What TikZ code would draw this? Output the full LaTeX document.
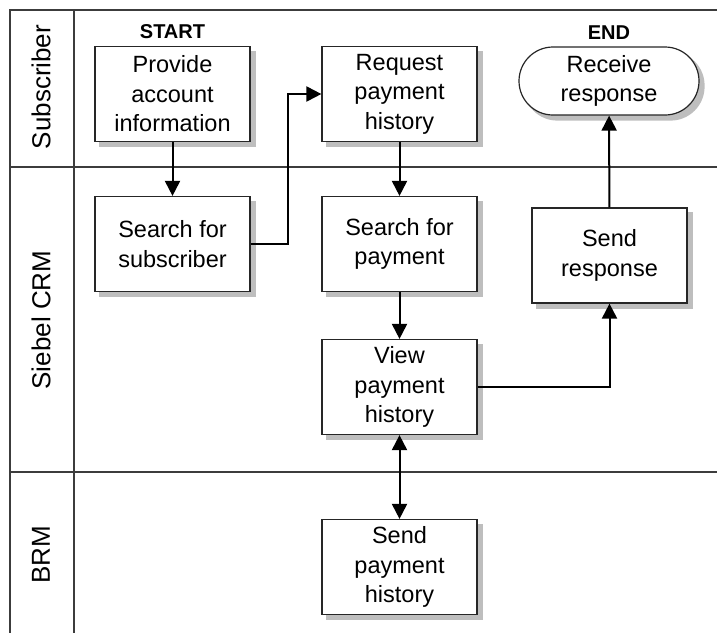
\documentclass[tikz,border=0pt]{standalone}
\usepackage{fontspec}
\setmainfont{Liberation Sans}
\usetikzlibrary{arrows.meta, positioning, backgrounds}
\definecolor{lanegray}{RGB}{60, 60, 60}
\definecolor{shadowgray}{RGB}{190, 190, 190}

\begin{document}
\begin{tikzpicture}[x=1pt, y=-1pt,
    task/.style={rectangle, draw=black!85, fill=white, line width=1.2pt, minimum width=155pt, minimum height=95pt, align=center, inner sep=2pt, font=\fontsize{23.5}{29.5}\selectfont},
    terminal/.style={task, rounded corners=34pt, minimum width=180pt, minimum height=68pt},
    lane/.style={rotate=90, font=\fontsize{26}{30}\selectfont},
    marker/.style={inner sep=0pt, font=\bfseries\fontsize{20}{24}\selectfont},
    flow/.style={-{Triangle[length=15pt, width=15pt]}, line width=2pt},
    twoway/.style={{Triangle[length=15pt, width=15pt]}-{Triangle[length=15pt, width=15pt]}, line width=2pt}
]
\useasboundingbox (0,0) rectangle (717,633);

% Lanes
\draw[lanegray, line width=1.3pt] (717,10) -- (10,10) -- (10,633);
\draw[lanegray, line width=1.3pt] (74,10) -- (74,633);
\draw[lanegray, line width=1.3pt] (10,167) -- (717,167);
\draw[lanegray, line width=1.3pt] (10,472) -- (717,472);

\node[lane] (subscriber) at (41,87) {Subscriber};
\node[lane] (siebel) at (41,320) {Siebel CRM};
\node[lane] (brm) at (41,555) {BRM};

% Steps
\node[task] (provide) at (172.5,94) {Provide\\account\\information};
\node[task] (subsearch) at (172.5,244) {Search for\\subscriber};
\node[task] (request) at (399.5,94) {Request\\payment\\history};
\node[task] (paysearch) at (399.5,244) {Search for\\payment};
\node[task] (viewpay) at (399.5,387) {View\\payment\\history};
\node[task] (sendpay) at (399.5,567) {Send\\payment\\history};
\node[task] (sendresp) at (609.5,255.5) {Send\\response};
\node[terminal] (receive) at (609,81) {Receive\\response};

\node[marker, above=7pt of provide] (start) {START};
\node[marker, above=7pt of receive] (end) {END};

% Shadows
\begin{scope}[on background layer]
    \foreach \n in {provide, subsearch, request, paysearch, viewpay, sendpay, sendresp}
        \fill[shadowgray] ([shift={(5,5)}]\n.north west) rectangle ([shift={(5,5)}]\n.south east);
    \fill[shadowgray, rounded corners=34pt] ([shift={(5,5)}]receive.north west) rectangle ([shift={(5,5)}]receive.south east);
\end{scope}

% Flow
\draw[flow] (provide) -- (subsearch);
\draw[flow] (subsearch.east) -- ++(37,0) |- (request.west);
\draw[flow] (request) -- (paysearch);
\draw[flow] (paysearch) -- (viewpay);
\draw[flow] (viewpay.east) -| (sendresp.south);
\draw[flow] (sendresp) -- (receive);
\draw[twoway] (viewpay) -- (sendpay);

\end{tikzpicture}
\end{document}
